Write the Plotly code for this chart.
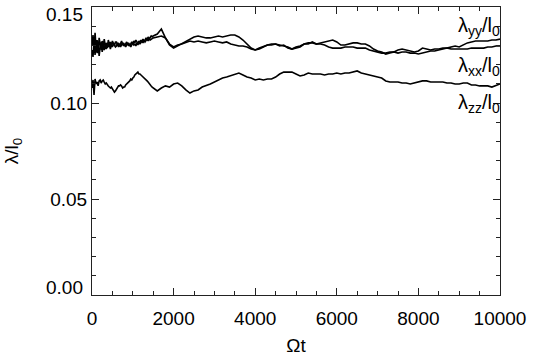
import plotly.graph_objects as go

# Time samples (Omega t): dense at the start where the curves are noisy
t_early = list(range(0, 1500, 25))
t_main = list(range(1500, 10001, 100))
t = t_early + t_main

lam_yy = [
    # 0 - 1475
    0.1302, 0.1354, 0.1276, 0.1365, 0.1286, 0.1328, 0.1266, 0.1339, 0.1307, 0.1276, 0.1323, 0.1292,
    0.1333, 0.1297, 0.1313, 0.1286, 0.1328, 0.1302, 0.1318, 0.1292, 0.1323, 0.1307, 0.1297, 0.1318,
    0.1318, 0.1302, 0.1313, 0.1297, 0.1307, 0.1323, 0.1302, 0.1313, 0.1297, 0.1307, 0.1318, 0.1302,
    0.1313, 0.1297, 0.1307, 0.1318, 0.1307, 0.1323, 0.1313, 0.1328, 0.1318, 0.1307, 0.1323, 0.1313,
    0.1328, 0.1318, 0.1333, 0.1323, 0.1328, 0.1339, 0.1328, 0.1344, 0.1333, 0.1339, 0.1349, 0.1344,
    # 1500 - 10000
    0.1349, 0.1359, 0.1385,
    0.1339, 0.1302, 0.1286, 0.1297, 0.1307, 0.1318, 0.1333, 0.1344, 0.1349, 0.1344, 0.1339, 0.1339,
    0.1344, 0.1349, 0.1344, 0.1349, 0.1354, 0.1354, 0.1344, 0.1328, 0.1307, 0.1286, 0.1276, 0.1281,
    0.1292, 0.1302, 0.1307, 0.1307, 0.1302, 0.1297, 0.1292, 0.1281, 0.1286, 0.1292, 0.1307, 0.1313,
    0.1313, 0.1307, 0.1307, 0.1302, 0.1292, 0.1286, 0.1286, 0.1286, 0.1292, 0.1292, 0.1292, 0.1286,
    0.1286, 0.1286, 0.1276, 0.1271, 0.1266, 0.1260, 0.1260, 0.1266, 0.1266, 0.1276, 0.1281, 0.1276,
    0.1271, 0.1266, 0.1271, 0.1286, 0.1281, 0.1276, 0.1281, 0.1281, 0.1286, 0.1286, 0.1292, 0.1297,
    0.1292, 0.1302, 0.1313, 0.1318, 0.1323, 0.1323, 0.1323, 0.1323, 0.1328, 0.1328, 0.1333]

lam_xx = [
    # 0 - 1475
    0.1276, 0.1240, 0.1328, 0.1250, 0.1318, 0.1260, 0.1302, 0.1245, 0.1292, 0.1318, 0.1266, 0.1307,
    0.1276, 0.1302, 0.1281, 0.1313, 0.1292, 0.1307, 0.1281, 0.1302, 0.1292, 0.1313, 0.1302, 0.1292,
    0.1297, 0.1313, 0.1292, 0.1307, 0.1292, 0.1302, 0.1313, 0.1297, 0.1307, 0.1292, 0.1302, 0.1313,
    0.1297, 0.1307, 0.1292, 0.1302, 0.1313, 0.1302, 0.1307, 0.1297, 0.1313, 0.1302, 0.1318, 0.1307,
    0.1313, 0.1323, 0.1313, 0.1328, 0.1318, 0.1323, 0.1333, 0.1323, 0.1339, 0.1328, 0.1333, 0.1339,
    # 1500 - 10000
    0.1339, 0.1344, 0.1349,
    0.1339, 0.1307, 0.1292, 0.1302, 0.1307, 0.1313, 0.1323, 0.1318, 0.1323, 0.1318, 0.1313, 0.1318,
    0.1323, 0.1318, 0.1313, 0.1318, 0.1307, 0.1302, 0.1297, 0.1297, 0.1292, 0.1281, 0.1276, 0.1286,
    0.1292, 0.1302, 0.1302, 0.1307, 0.1297, 0.1302, 0.1286, 0.1281, 0.1292, 0.1297, 0.1307, 0.1307,
    0.1318, 0.1307, 0.1313, 0.1318, 0.1323, 0.1328, 0.1318, 0.1302, 0.1302, 0.1307, 0.1313, 0.1313,
    0.1307, 0.1307, 0.1297, 0.1281, 0.1271, 0.1266, 0.1255, 0.1260, 0.1266, 0.1260, 0.1266, 0.1266,
    0.1260, 0.1260, 0.1255, 0.1260, 0.1266, 0.1271, 0.1271, 0.1276, 0.1281, 0.1286, 0.1281, 0.1281,
    0.1281, 0.1281, 0.1281, 0.1286, 0.1286, 0.1286, 0.1286, 0.1292, 0.1292, 0.1297, 0.1297]

lam_zz = [
    # 0 - 1475
    0.1078, 0.1120, 0.1042, 0.1125, 0.1099, 0.1109, 0.1089, 0.1115, 0.1120, 0.1104, 0.1115, 0.1120,
    0.1109, 0.1099, 0.1104, 0.1094, 0.1089, 0.1083, 0.1078, 0.1083, 0.1073, 0.1063, 0.1057, 0.1063,
    0.1073, 0.1078, 0.1089, 0.1089, 0.1094, 0.1089, 0.1078, 0.1083, 0.1083, 0.1094, 0.1099, 0.1104,
    0.1109, 0.1115, 0.1125, 0.1120, 0.1130, 0.1135, 0.1146, 0.1151, 0.1156, 0.1161, 0.1151, 0.1151,
    0.1146, 0.1141, 0.1135, 0.1135, 0.1130, 0.1120, 0.1115, 0.1109, 0.1104, 0.1099, 0.1089, 0.1083,
    # 1500 - 10000
    0.1078, 0.1063, 0.1078,
    0.1089, 0.1083, 0.1099, 0.1104, 0.1089, 0.1068, 0.1052, 0.1063, 0.1068, 0.1083, 0.1089, 0.1099,
    0.1109, 0.1120, 0.1130, 0.1135, 0.1141, 0.1151, 0.1156, 0.1146, 0.1135, 0.1130, 0.1120, 0.1125,
    0.1120, 0.1125, 0.1125, 0.1135, 0.1151, 0.1161, 0.1161, 0.1161, 0.1151, 0.1141, 0.1146, 0.1156,
    0.1151, 0.1151, 0.1151, 0.1146, 0.1151, 0.1151, 0.1156, 0.1151, 0.1156, 0.1156, 0.1161, 0.1167,
    0.1156, 0.1151, 0.1146, 0.1141, 0.1135, 0.1130, 0.1115, 0.1109, 0.1109, 0.1109, 0.1104, 0.1104,
    0.1099, 0.1104, 0.1109, 0.1115, 0.1115, 0.1109, 0.1109, 0.1109, 0.1109, 0.1104, 0.1104, 0.1099,
    0.1099, 0.1104, 0.1104, 0.1094, 0.1094, 0.1089, 0.1089, 0.1089, 0.1083, 0.1089, 0.1099]

series_labels = ["λ<sub>yy</sub>/l<sub>0</sub>", "λ<sub>xx</sub>/l<sub>0</sub>", "λ<sub>zz</sub>/l<sub>0</sub>"]
label_y = [0.1401, 0.1188, 0.1000]

x_ticks = [0, 2000, 4000, 6000, 8000, 10000]
y_ticks = [0.00, 0.05, 0.10, 0.15]
y_tick_text = ["0.00", "0.05", "0.10", "0.15"]

FONT = "Liberation Sans, Arial, Helvetica, sans-serif"

fig = go.Figure()
for ys in (lam_yy, lam_xx, lam_zz):
    fig.add_trace(go.Scatter(x=t[:len(ys)], y=ys, mode="lines",
                             line=dict(color="black", width=1.6), showlegend=False))

for txt, yv in zip(series_labels, label_y):
    fig.add_annotation(x=1.006, xref="paper", y=yv, yref="y", text=txt,
                       showarrow=False, xanchor="right", yanchor="middle",
                       font=dict(family=FONT, size=20, color="black"))

# end labels of the y axis sit inside the axis range (as in the original)
inner_text = [s if 0 < v < 0.15 else "" for v, s in zip(y_ticks, y_tick_text)]
for v, s in zip(y_ticks, y_tick_text):
    if v in (y_ticks[0], y_ticks[-1]):
        fig.add_annotation(x=0, xref="paper", y=v, yref="y", text=s, showarrow=False,
                           xanchor="right", yanchor="middle", xshift=-7,
                           yshift=8 if v == y_ticks[0] else -7,
                           font=dict(family=FONT, size=19, color="black"))

axis_common = dict(showgrid=False, zeroline=False, showline=True, linecolor="#222",
                   linewidth=1, mirror="allticks", ticks="inside", tickcolor="#222",
                   ticklen=7, tickwidth=1, automargin=False, ticklabeloverflow="allow",
                   tickfont=dict(family=FONT, size=19, color="black"))

fig.update_xaxes(range=[0, 10000], tickvals=x_ticks, ticktext=[str(v) for v in x_ticks],
                 ticklabelstandoff=6,
                 minor=dict(dtick=500, ticks="inside", ticklen=4, tickcolor="#222", tickwidth=1),
                 title=dict(text="Ωt", font=dict(family=FONT, size=19, color="black"), standoff=10),
                 **axis_common)
fig.update_yaxes(range=[0, 0.15], tickvals=y_ticks, ticktext=inner_text,
                 minor=dict(dtick=0.01, ticks="inside", ticklen=4, tickcolor="#222", tickwidth=1),
                 title=dict(text="λ/l<sub>0</sub>", font=dict(family=FONT, size=19, color="black"), standoff=26),
                 **axis_common)

fig.update_layout(width=536, height=358, margin=dict(l=92, r=36, t=7, b=63),
                  plot_bgcolor="white", paper_bgcolor="white")

fig.write_html("out.html", config={"displayModeBar": False},
               post_script="document.body.style.margin='0px';document.body.style.overflow='hidden';")
